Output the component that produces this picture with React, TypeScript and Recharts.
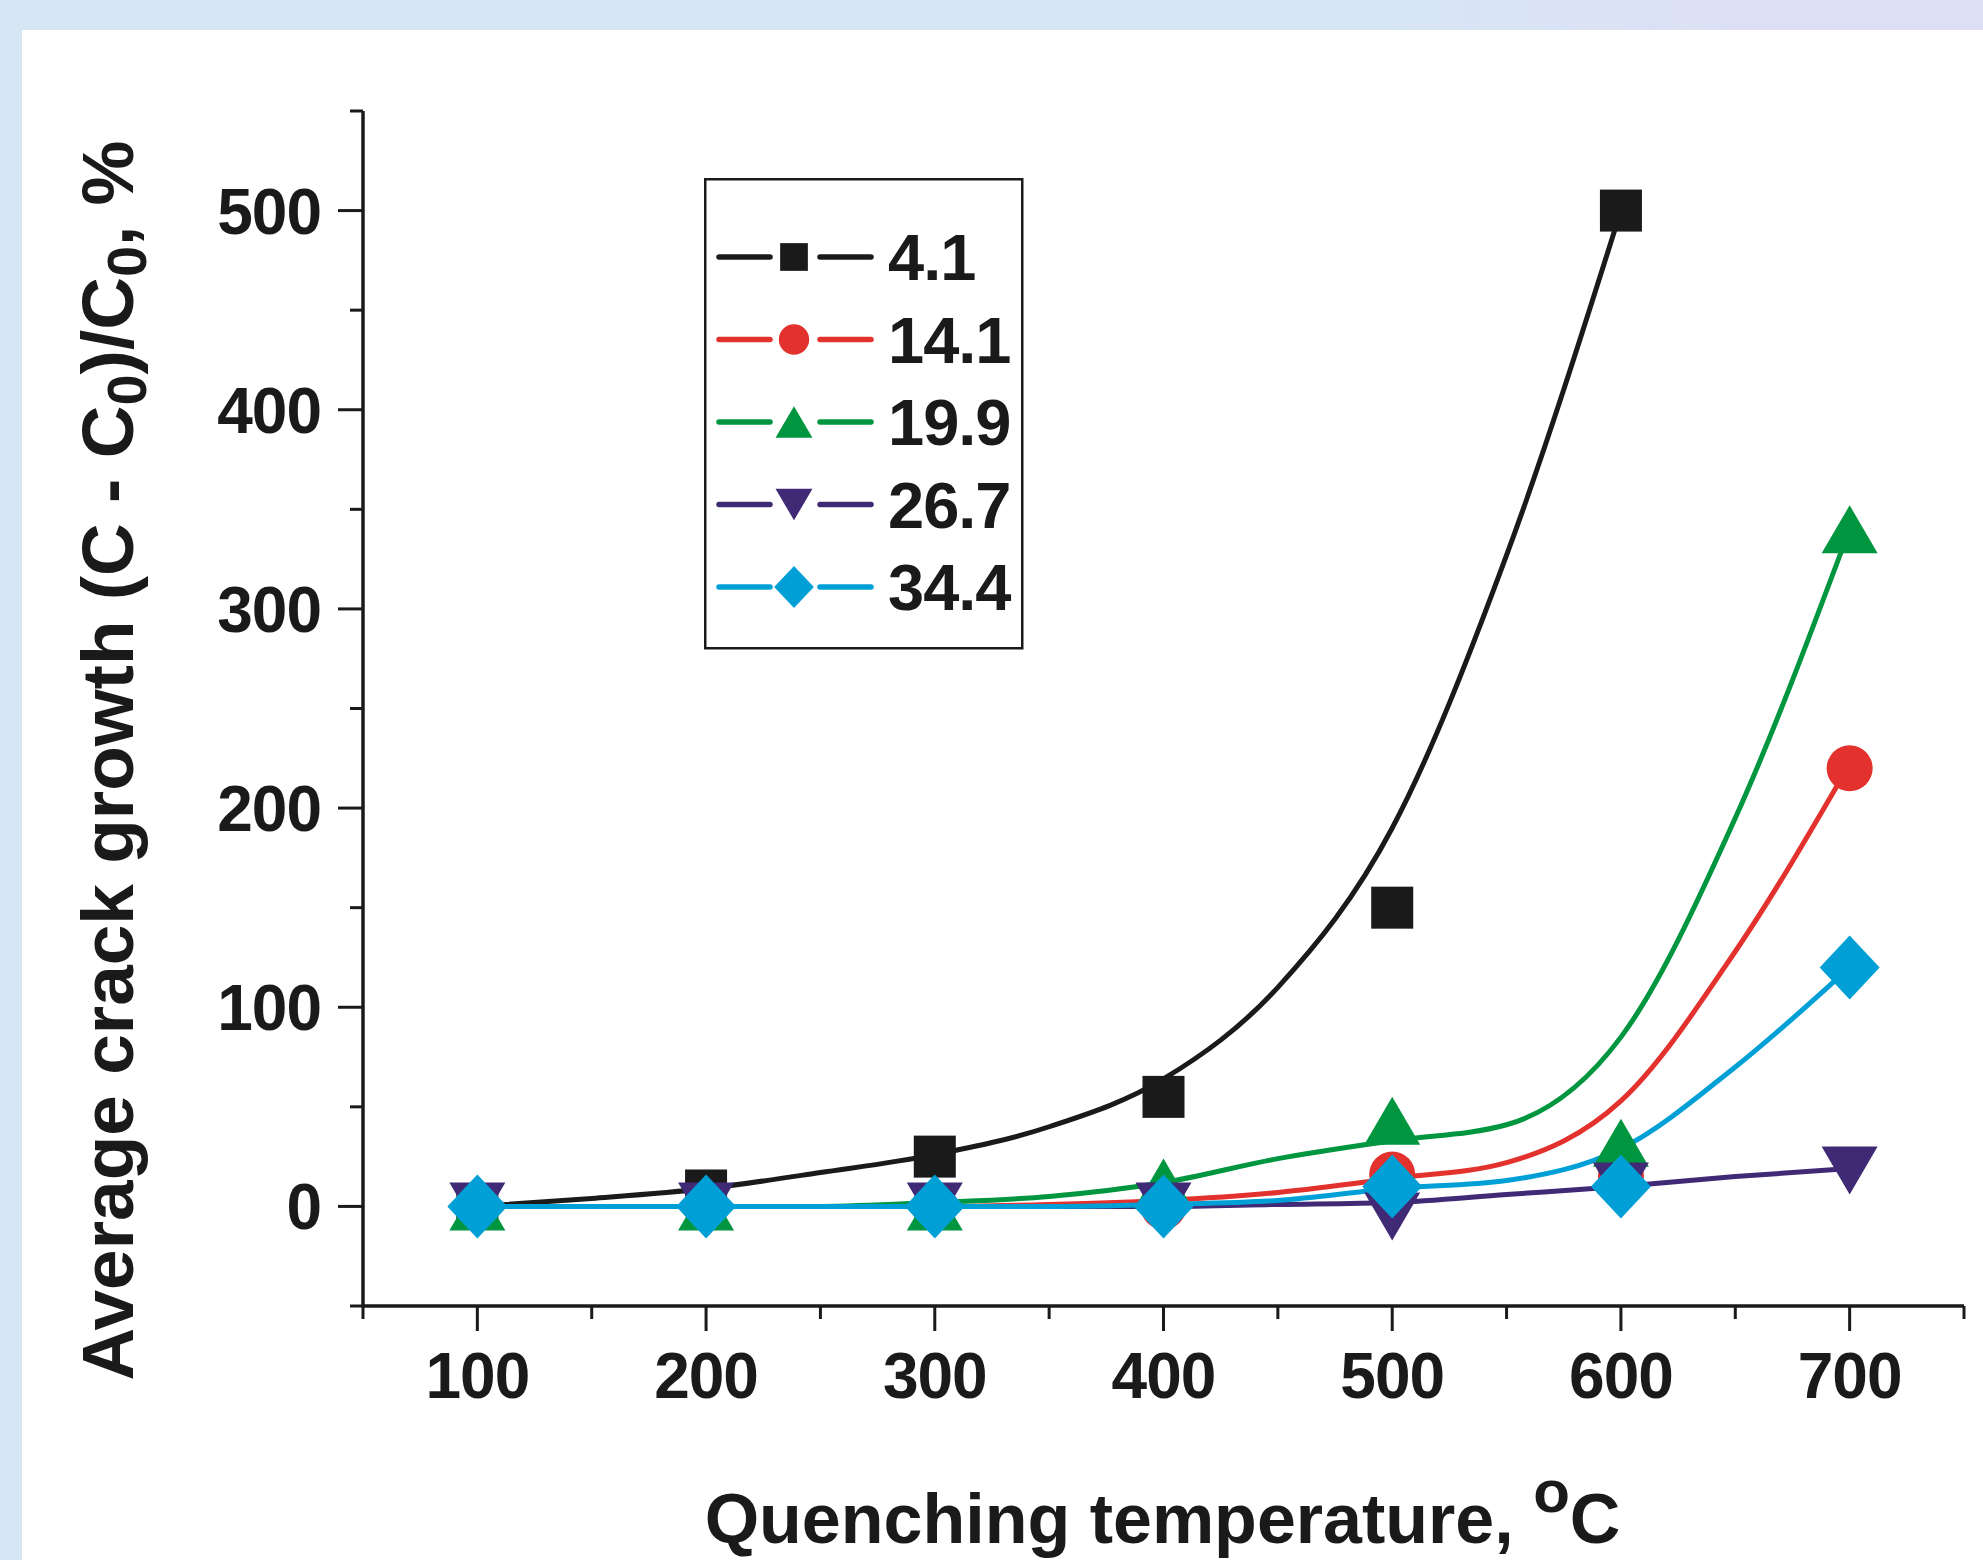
import React from 'react';
import { ComposedChart, Line, Scatter, XAxis, YAxis, Legend, Label } from 'recharts';

// quenching temperatures, °C
const temps = [100, 200, 300, 400, 500, 600, 700];
const fitTemps = [100, 150, 200, 250, 300, 350, 400, 450, 500, 550, 600, 650, 700];

// measured crack growth, %
const growth41 = [0, 8, 25, 55, 150, 500];
const growth141 = [0, 0, 0, 0, 16, 15, 220];
const growth199 = [0, 0, 0, 12, 43, 32, 340];
const growth267 = [0, 0, 0, 0, -5, 10, 18];
const growth344 = [0, 0, 0, 0, 10, 10, 120];

// fitted curves
const fit41 = [0, 4, 9, 17, 26, 40, 64, 110, 190, 327, 500];
const fit141 = [0, 0, 0, 0, 0, 1, 3, 7, 14, 22, 53, 128, 222];
const fit199 = [0, 0, 0, 0, 2, 5, 12, 24, 33, 41, 85, 195, 340];
const fit267 = [0, 0, 0, 0, 0, 0, 0, 1, 2, 6, 10, 15, 19];
const fit344 = [0, 0, 0, 0, 0, 0, 1, 3, 9, 13, 29, 70, 120];

const seriesNames = ['4.1', '14.1', '19.9', '26.7', '34.4'];

const xTicks = [50, 100, 150, 200, 250, 300, 350, 400, 450, 500, 550, 600, 650, 700, 750];
const yTicks = [-50, 0, 50, 100, 150, 200, 250, 300, 350, 400, 450, 500, 550];

const INK = '#1a1a1a';
const FONT = "'Liberation Sans', Arial, Helvetica, sans-serif";

const toPoints = (xs: number[], ys: number[]) => ys.map((y, i) => ({ x: xs[i], y }));

type Kind = 'square' | 'circle' | 'up' | 'down' | 'diamond';

const series: { name: string; color: string; kind: Kind; points: any[]; fit: any[] }[] = [
  { name: seriesNames[0], color: INK, kind: 'square', points: toPoints(temps, growth41), fit: toPoints(fitTemps, fit41) },
  { name: seriesNames[1], color: '#e3312d', kind: 'circle', points: toPoints(temps, growth141), fit: toPoints(fitTemps, fit141) },
  { name: seriesNames[2], color: '#00963f', kind: 'up', points: toPoints(temps, growth199), fit: toPoints(fitTemps, fit199) },
  { name: seriesNames[3], color: '#412a75', kind: 'down', points: toPoints(temps, growth267), fit: toPoints(fitTemps, fit267) },
  { name: seriesNames[4], color: '#00a0d7', kind: 'diamond', points: toPoints(temps, growth344), fit: toPoints(fitTemps, fit344) },
];

function Marker({ kind, cx, cy, color, k = 1 }: { kind: Kind; cx: number; cy: number; color: string; k?: number }) {
  if (cx == null || cy == null) return null;
  if (kind === 'square') {
    const s = 42 * k;
    return <rect x={cx - s / 2} y={cy - s / 2} width={s} height={s} fill={color} />;
  }
  if (kind === 'circle') return <circle cx={cx} cy={cy} r={23 * k} fill={color} />;
  if (kind === 'up') {
    const w = 28 * k, h = 24 * k;
    return <polygon points={`${cx},${cy - h} ${cx - w},${cy + h} ${cx + w},${cy + h}`} fill={color} />;
  }
  if (kind === 'down') {
    const w = 28 * k, h = 24 * k;
    return <polygon points={`${cx - w},${cy - h} ${cx + w},${cy - h} ${cx},${cy + h}`} fill={color} />;
  }
  const w = 30 * k, h = 32 * k;
  return <polygon points={`${cx},${cy - h} ${cx + w},${cy} ${cx},${cy + h} ${cx - w},${cy}`} fill={color} />;
}

const XTick = ({ x, y, payload }: any) => {
  const major = payload.value % 100 === 0;
  return (
    <g>
      <line x1={x} y1={y} x2={x} y2={y + (major ? 25 : 13)} stroke={INK} strokeWidth={3} />
      {major && (
        <text x={x} y={y + 92} textAnchor="middle" fill={INK} fontFamily={FONT} fontWeight="bold" fontSize={64} letterSpacing={-1}>
          {payload.value}
        </text>
      )}
    </g>
  );
};

const YTick = ({ x, y, payload }: any) => {
  const major = payload.value % 100 === 0;
  return (
    <g>
      <line x1={x} y1={y} x2={x - (major ? 25 : 13)} y2={y} stroke={INK} strokeWidth={3} />
      {major && (
        <text x={x - 42} y={y + 23} textAnchor="end" fill={INK} fontFamily={FONT} fontWeight="bold" fontSize={64} letterSpacing={-1}>
          {payload.value}
        </text>
      )}
    </g>
  );
};

const XTitle = ({ viewBox }: any) => (
  <text
    x={viewBox.x + viewBox.width / 2 - 1}
    y={viewBox.y + 237}
    textAnchor="middle"
    fill={INK}
    fontFamily={FONT}
    fontWeight="bold"
    fontSize={70}
  >
    Quenching temperature,{' '}
    <tspan fontSize={60} dy={-31}>o</tspan>
    <tspan dy={31}>C</tspan>
  </text>
);

const YTitle = ({ viewBox }: any) => {
  const x = viewBox.x - 110;
  const y = viewBox.y + viewBox.height / 2 + 52;
  return (
    <text
      x={x}
      y={y}
      transform={`rotate(-90, ${x}, ${y})`}
      textAnchor="middle"
      fill={INK}
      fontFamily={FONT}
      fontWeight="bold"
      fontSize={73}
    >
      Average crack growth (C - C
      <tspan fontSize={56} dy={13}>0</tspan>
      <tspan dy={-13}>)/C</tspan>
      <tspan fontSize={56} dy={13}>0</tspan>
      <tspan dy={-13}>, %</tspan>
    </text>
  );
};

function LegendBox() {
  return (
    <svg width={320} height={472} style={{ display: 'block' }}>
      <rect x={1.25} y={1.25} width={317} height={469} fill="#ffffff" stroke={INK} strokeWidth={2.5} />
      {series.map((s, i) => {
        const cy = 79 + i * 82.5;
        return (
          <g key={s.name}>
            <line x1={15} y1={cy} x2={66} y2={cy} stroke={s.color} strokeWidth={5.5} strokeLinecap="round" />
            <line x1={116} y1={cy} x2={167} y2={cy} stroke={s.color} strokeWidth={5.5} strokeLinecap="round" />
            <Marker kind={s.kind} cx={90} cy={cy} color={s.color} k={0.66} />
            <text x={184} y={cy + 23} fill={INK} fontFamily={FONT} fontWeight="bold" fontSize={65} letterSpacing={-1}>
              {s.name}
            </text>
          </g>
        );
      })}
    </svg>
  );
}

export default function App() {
  return (
    <div
      style={{
        position: 'absolute',
        left: 0,
        top: 0,
        width: 1983,
        height: 1560,
        background: 'linear-gradient(to right, #d6e6f5 0%, #d6e6f5 68%, #dde0f4 88%, #dde0f4 100%)',
        overflow: 'hidden',
      }}
    >
      <div style={{ position: 'absolute', left: 22, top: 30, right: 0, bottom: 0, background: '#ffffff' }} />
      <div style={{ position: 'absolute', left: 0, top: 0 }}>
        <ComposedChart width={1983} height={1560} margin={{ top: 111, right: 19, bottom: 104, left: 243 }}>
          <XAxis
            type="number"
            dataKey="x"
            domain={[50, 750]}
            ticks={xTicks}
            interval={0}
            allowDataOverflow
            height={150}
            tickSize={0}
            tickMargin={0}
            tickLine={false}
            tick={<XTick />}
            axisLine={{ stroke: INK, strokeWidth: 3.5 }}
          >
            <Label content={<XTitle />} />
          </XAxis>
          <YAxis
            type="number"
            dataKey="y"
            domain={[-50, 550]}
            ticks={yTicks}
            interval={0}
            allowDataOverflow
            width={120}
            tickSize={0}
            tickMargin={0}
            tickLine={false}
            tick={<YTick />}
            axisLine={{ stroke: INK, strokeWidth: 3.5 }}
          >
            <Label content={<YTitle />} />
          </YAxis>
          <Legend
            layout="horizontal"
            verticalAlign="middle"
            align="center"
            wrapperStyle={{ position: 'absolute', left: 704, top: 178, width: 320, height: 472, margin: 0, padding: 0 }}
            content={() => <LegendBox />}
          />
          {series.flatMap((s) => [
            <Line
              key={`fit-${s.name}`}
              data={s.fit}
              dataKey="y"
              type="monotone"
              stroke={s.color}
              strokeWidth={5}
              dot={false}
              activeDot={false}
              legendType="none"
              isAnimationActive={false}
            />,
            <Scatter
              key={`pts-${s.name}`}
              name={s.name}
              data={s.points}
              dataKey="y"
              fill={s.color}
              isAnimationActive={false}
              shape={(p: any) => <Marker kind={s.kind} cx={p.cx} cy={p.cy} color={s.color} />}
            />,
          ])}
        </ComposedChart>
      </div>
    </div>
  );
}
